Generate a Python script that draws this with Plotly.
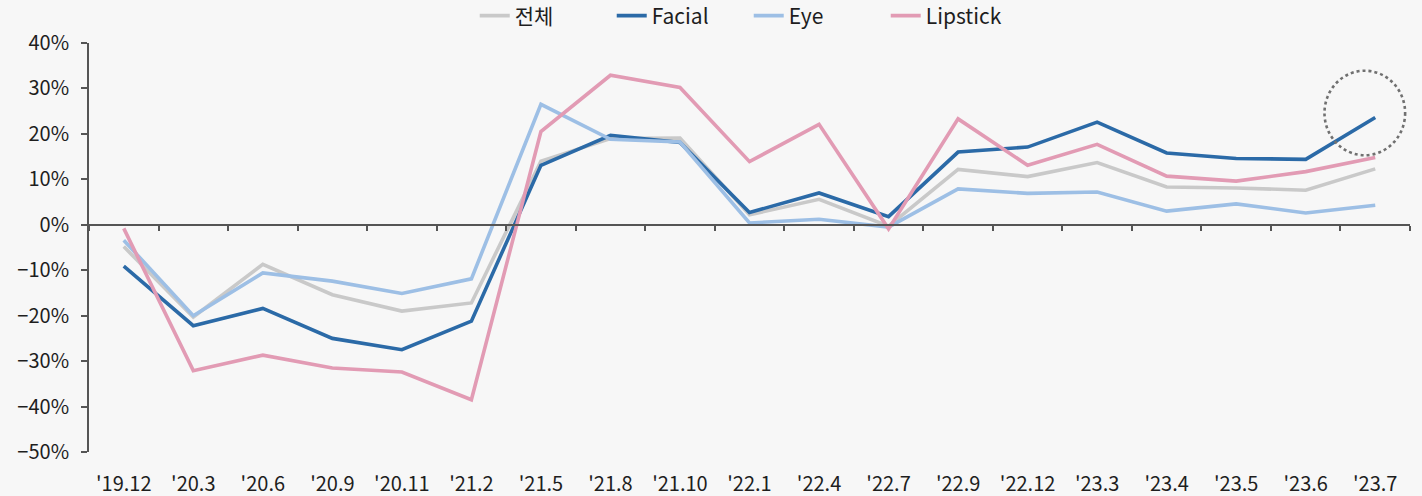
import plotly.graph_objects as go

# periods on the x axis
periods = ["'19.12", "'20.3", "'20.6", "'20.9", "'20.11", "'21.2", "'21.5", "'21.8", "'21.10",
           "'22.1", "'22.4", "'22.7", "'22.9", "'22.12", "'23.3", "'23.4", "'23.5", "'23.6", "'23.7"]

# growth rates (%)
total    = [-4.8, -20.3, -8.7, -15.4, -19.0, -17.2, 14.0, 19.0, 19.1, 2.2, 5.6, -0.3,
            12.2, 10.6, 13.7, 8.3, 8.1, 7.6, 12.3]
facial   = [-9.1, -22.2, -18.4, -25.0, -27.5, -21.2, 13.1, 19.7, 18.1, 2.7, 7.0, 1.8,
            16.0, 17.1, 22.6, 15.8, 14.6, 14.4, 23.6]
eye      = [-3.4, -20.0, -10.6, -12.4, -15.1, -11.9, 26.5, 18.8, 18.2, 0.4, 1.2, -0.5,
            7.9, 6.9, 7.2, 3.0, 4.6, 2.6, 4.3]
lipstick = [-0.8, -32.1, -28.7, -31.5, -32.4, -38.5, 20.5, 32.9, 30.2, 13.9, 22.1, -0.9,
            23.3, 13.1, 17.7, 10.7, 9.6, 11.7, 14.8]

series = [
    ("전체", total, "#c9c9c9"),
    ("Facial", facial, "#2b6aa7"),
    ("Eye", eye, "#9dbfe5"),
    ("Lipstick", lipstick, "#e29bb4"),
]

x = list(range(len(periods)))
y_min, y_max = -50, 40
font = "Noto Sans CJK KR"
axis_col = "#555555"
bg = "#f7f7f7"

fig = go.Figure()
for name, vals, col in series:
    fig.add_trace(go.Scatter(x=x, y=vals, name=name, mode="lines",
                             line=dict(color=col, width=3.6)))

# invisible trace so the zero axis (xaxis2) is drawn
fig.add_trace(go.Scatter(x=[0], y=[0], xaxis="x2", mode="markers",
                         marker=dict(opacity=0), showlegend=False, hoverinfo="skip"))

# dotted circle around the latest Facial point
cx, cy = x[-1] - 0.15, facial[-1] + 1.0
fig.add_shape(type="circle", xref="x", yref="y",
              x0=cx - 0.58, x1=cx + 0.58, y0=cy - 9.3, y1=cy + 9.3,
              line=dict(color="#707070", width=2.6, dash="dot"))

fig.update_layout(
    width=1422, height=496,
    margin=dict(l=89, r=12, t=43, b=44, autoexpand=False),
    paper_bgcolor=bg, plot_bgcolor=bg,
    font=dict(family=font, size=20, color="#1e1e1e"),
    showlegend=True,
    legend=dict(orientation="h", x=0.292, xanchor="left", y=1 - 16 / 496, yanchor="middle",
                yref="container", font=dict(size=21), bgcolor="rgba(0,0,0,0)",
                entrywidth=92, entrywidthmode="pixels"),
    xaxis=dict(range=[-0.5, len(periods) - 0.5], tickvals=x, ticktext=periods,
               showline=False, showgrid=False, zeroline=False,
               ticks="outside", ticklen=14, tickcolor="rgba(0,0,0,0)",
               tickfont=dict(size=20)),
    xaxis2=dict(range=[-0.5, len(periods) - 0.5], overlaying="x", anchor="free",
                position=(0 - y_min) / (y_max - y_min), side="bottom",
                tickvals=[i - 0.5 for i in range(len(periods) + 1)],
                showticklabels=False, ticks="outside", ticklen=5, tickwidth=1.5,
                tickcolor=axis_col, showline=True, linecolor=axis_col, linewidth=1.8,
                showgrid=False, zeroline=False),
    yaxis=dict(range=[y_min, y_max], dtick=10, ticksuffix="%",
               showline=True, linecolor=axis_col, linewidth=1.8,
               ticks="outside", ticklen=6, tickwidth=1.5, tickcolor=axis_col,
               ticklabelstandoff=8, showgrid=False, zeroline=False,
               tickfont=dict(size=20)),
)

fig.write_html("out.html", config={"displayModeBar": False},
               post_script="document.body.style.margin='0px';"
                           f"document.body.style.background='{bg}';")
